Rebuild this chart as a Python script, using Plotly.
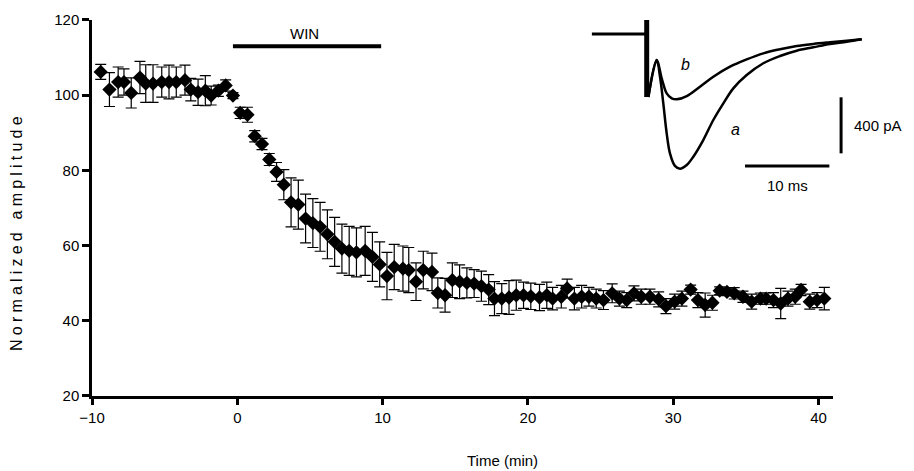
import plotly.graph_objects as go

# ---------------- main time course ----------------
time_min = [-9.4, -8.8, -8.2, -7.8, -7.3, -6.7, -6.3, -5.8, -5.2, -4.7, -4.2, -3.6, -3.2, -2.7, -2.2, -1.8,
            -1.3, -0.8, -0.3, 0.2, 0.7, 1.2, 1.7, 2.2, 2.7, 3.2, 3.7, 4.2, 4.7, 5.2, 5.7, 6.2, 6.7, 7.2,
            7.7, 8.2, 8.8, 9.3, 9.8, 10.3, 10.8, 11.4, 11.8, 12.3, 12.8, 13.4, 13.8, 14.3, 14.8, 15.3,
            15.8, 16.3, 16.8, 17.3, 17.7, 18.2, 18.7, 19.2, 19.7, 20.2, 20.8, 21.3, 21.7, 22.3, 22.7,
            23.2, 23.7, 24.2, 24.7, 25.2, 25.8, 26.3, 26.8, 27.3, 27.8, 28.4, 29.0, 29.5, 30.1, 30.6,
            31.2, 31.7, 32.2, 32.7, 33.2, 33.7, 34.2, 34.8, 35.4, 36.0, 36.4, 36.9, 37.4, 37.9, 38.4,
            38.8, 39.4, 39.9, 40.4]
amplitude = [106.2, 101.5, 103.5, 103.5, 100.6, 104.7, 103.1, 103.1, 103.5, 103.5, 103.5, 104.0, 101.5,
             100.8, 101.2, 99.9, 101.2, 102.6, 99.9, 95.3, 94.8, 89.1, 87.0, 82.9, 79.6, 76.2, 71.5, 70.9,
             67.2, 66.0, 65.0, 63.0, 61.0, 59.2, 58.6, 58.2, 58.6, 57.0, 55.0, 51.9, 54.3, 53.9, 53.5,
             50.4, 53.5, 53.0, 47.4, 46.8, 50.8, 50.4, 50.1, 49.9, 49.2, 48.3, 45.9, 45.9, 46.2, 46.8,
             46.8, 46.5, 46.2, 46.8, 45.9, 46.4, 48.6, 45.9, 46.4, 46.4, 45.9, 45.5, 47.3, 45.9, 45.5,
             47.3, 46.4, 46.4, 45.7, 43.9, 45.1, 45.9, 48.3, 45.5, 44.2, 44.8, 48.0, 47.7, 47.3, 46.4,
             45.1, 45.9, 45.9, 45.5, 44.6, 45.9, 46.4, 48.2, 45.1, 45.5, 45.9]
sem = [2.0, 4.5, 4.0, 3.5, 4.0, 4.3, 5.0, 5.0, 4.0, 4.5, 4.0, 4.0, 3.0, 3.5, 4.0, 2.5, 1.5, 1.5, 0.8,
       1.5, 2.0, 1.5, 1.5, 1.6, 2.5, 4.0, 6.5, 6.5, 6.5, 6.5, 6.5, 6.5, 6.5, 6.5, 6.5, 6.5, 6.5, 6.5,
       6.0, 6.3, 6.0, 6.0, 6.0, 5.0, 5.0, 5.0, 4.0, 4.5, 4.6, 4.5, 4.0, 3.7, 4.0, 4.0, 4.5, 4.0, 4.5,
       4.0, 3.5, 3.5, 3.5, 3.5, 3.0, 3.0, 2.5, 3.0, 3.0, 2.5, 2.5, 2.5, 2.5, 2.0, 2.0, 2.0, 2.0, 2.0,
       2.0, 2.0, 2.0, 2.0, 1.2, 2.0, 3.2, 2.0, 1.0, 1.0, 1.5, 1.5, 2.0, 1.5, 1.5, 2.0, 4.0, 2.0, 2.0,
       1.5, 2.0, 2.0, 3.0]

win_period = [-0.3, 9.9]
win_level = 113
x_ticks = [-10, 0, 10, 20, 30, 40]
y_ticks = [20, 40, 60, 80, 100, 120]

# ---------------- inset traces (ms, pA) ----------------
stim_t = [-6.5, 0.0]
stim_i = [0, 0]
artifact_t = [0.0, 0.0]
artifact_i = [100, -450]
trace_b_t = [0.2, 1.19, 1.78, 2.37, 2.97, 3.56, 4.75, 6.32, 7.9, 9.88, 11.86, 13.83, 15.81, 17.79,
             19.76, 21.74, 23.72, 25.5]
trace_b_i = [-450, -186, -316, -424, -459, -466, -443, -376, -305, -233, -181, -138, -109, -86,
             -71, -59, -48, -37]
trace_a_t = [0.2, 1.19, 1.58, 1.97, 2.37, 2.76, 3.35, 3.95, 4.75, 5.53, 6.71, 7.9, 9.09, 10.27,
             11.86, 13.83, 15.81, 17.79, 19.76, 21.74, 23.72, 25.5]
trace_a_i = [-450, -186, -305, -495, -709, -852, -942, -962, -935, -876, -757, -614, -495, -388,
             -293, -209, -157, -119, -95, -71, -55, -37]
scale_time = [11.66, 21.66]      # 10 ms
scale_time_level = -942
scale_amp = [-452, -852]         # 400 pA
scale_amp_pos = 23.05

FONT = "Liberation Sans, Arial, Helvetica, sans-serif"

fig = go.Figure()

fig.add_trace(go.Scatter(
    x=time_min, y=amplitude, mode="markers",
    marker=dict(symbol="diamond", size=11, color="black"),
    error_y=dict(type="data", array=sem, visible=True, color="black", thickness=1.2, width=5.5),
    showlegend=False, cliponaxis=False))

fig.add_trace(go.Scatter(
    x=win_period, y=[win_level, win_level], mode="lines",
    line=dict(color="black", width=4), showlegend=False))

# inset
fig.add_trace(go.Scatter(x=stim_t, y=stim_i, mode="lines", line=dict(color="black", width=3),
                         xaxis="x2", yaxis="y2", showlegend=False))
fig.add_trace(go.Scatter(x=artifact_t, y=artifact_i, mode="lines", line=dict(color="black", width=5),
                         xaxis="x2", yaxis="y2", showlegend=False))
fig.add_trace(go.Scatter(x=trace_a_t, y=trace_a_i, mode="lines", line=dict(color="black", width=2.5, shape="spline"),
                         xaxis="x2", yaxis="y2", showlegend=False))
fig.add_trace(go.Scatter(x=trace_b_t, y=trace_b_i, mode="lines", line=dict(color="black", width=2.5, shape="spline"),
                         xaxis="x2", yaxis="y2", showlegend=False))
fig.add_trace(go.Scatter(x=scale_time, y=[scale_time_level] * 2, mode="lines", line=dict(color="black", width=3),
                         xaxis="x2", yaxis="y2", showlegend=False))
fig.add_trace(go.Scatter(x=[scale_amp_pos] * 2, y=scale_amp, mode="lines", line=dict(color="black", width=3),
                         xaxis="x2", yaxis="y2", showlegend=False))

annotations = [
    dict(x=4.6, y=116.3, xref="x", yref="y", text="WIN", showarrow=False,
         font=dict(size=15, color="black", family=FONT)),
    dict(x=24.3, y=-650, xref="x2", yref="y2", text="400 pA", showarrow=False, xanchor="left",
         font=dict(size=15, color="black", family=FONT)),
    dict(x=16.66, y=-1085, xref="x2", yref="y2", text="10 ms", showarrow=False,
         font=dict(size=15, color="black", family=FONT)),
    dict(x=10.5, y=-685, xref="x2", yref="y2", text="<i>a</i>", showarrow=False,
         font=dict(size=16, color="black", family=FONT)),
    dict(x=4.66, y=-221, xref="x2", yref="y2", text="<i>b</i>", showarrow=False,
         font=dict(size=16, color="black", family=FONT)),
    # axis titles
    dict(x=0.505, y=-0.168, xref="paper", yref="paper", text="Time (min)", showarrow=False,
         xanchor="center", yanchor="middle",
         font=dict(size=15, color="black", family=FONT)),
    dict(x=-0.0924, y=0.4275, xref="paper", yref="paper", textangle=-90, showarrow=False,
         xanchor="center", yanchor="middle",
         text='<span style="letter-spacing:4.2px">Normalized amplitude</span>',
         font=dict(size=16, color="black", family=FONT)),
]

fig.update_layout(
    width=914, height=471,
    margin=dict(l=92, r=10, t=10, b=75),
    paper_bgcolor="white", plot_bgcolor="white",
    font=dict(family=FONT, color="black", size=15),
    showlegend=False,
    annotations=annotations,
    xaxis=dict(domain=[0, 0.9126], range=[-10, 41], tickvals=x_ticks, automargin=False,
               showline=True, linecolor="black", linewidth=2.5, ticks="outside", ticklen=6,
               tickwidth=2.5, tickcolor="black", showgrid=False, zeroline=False,
               tickfont=dict(size=15)),
    yaxis=dict(domain=[0, 0.9741], range=[20, 120], tickvals=y_ticks, automargin=False,
               showline=True, linecolor="black", linewidth=2.5, ticks="outside", ticklen=7,
               tickwidth=2.5, tickcolor="black", showgrid=False, zeroline=False,
               tickfont=dict(size=15)),
    xaxis2=dict(domain=[0.6071, 0.9951], range=[-7.32, 30.04], visible=False, anchor="y2",
                automargin=False),
    yaxis2=dict(domain=[0.5078, 0.9948], range=[-1185, 157], visible=False, anchor="x2",
                automargin=False),
)

fig.write_html("out.html", config={"displayModeBar": False},
               post_script="document.body.style.margin='0px';")
